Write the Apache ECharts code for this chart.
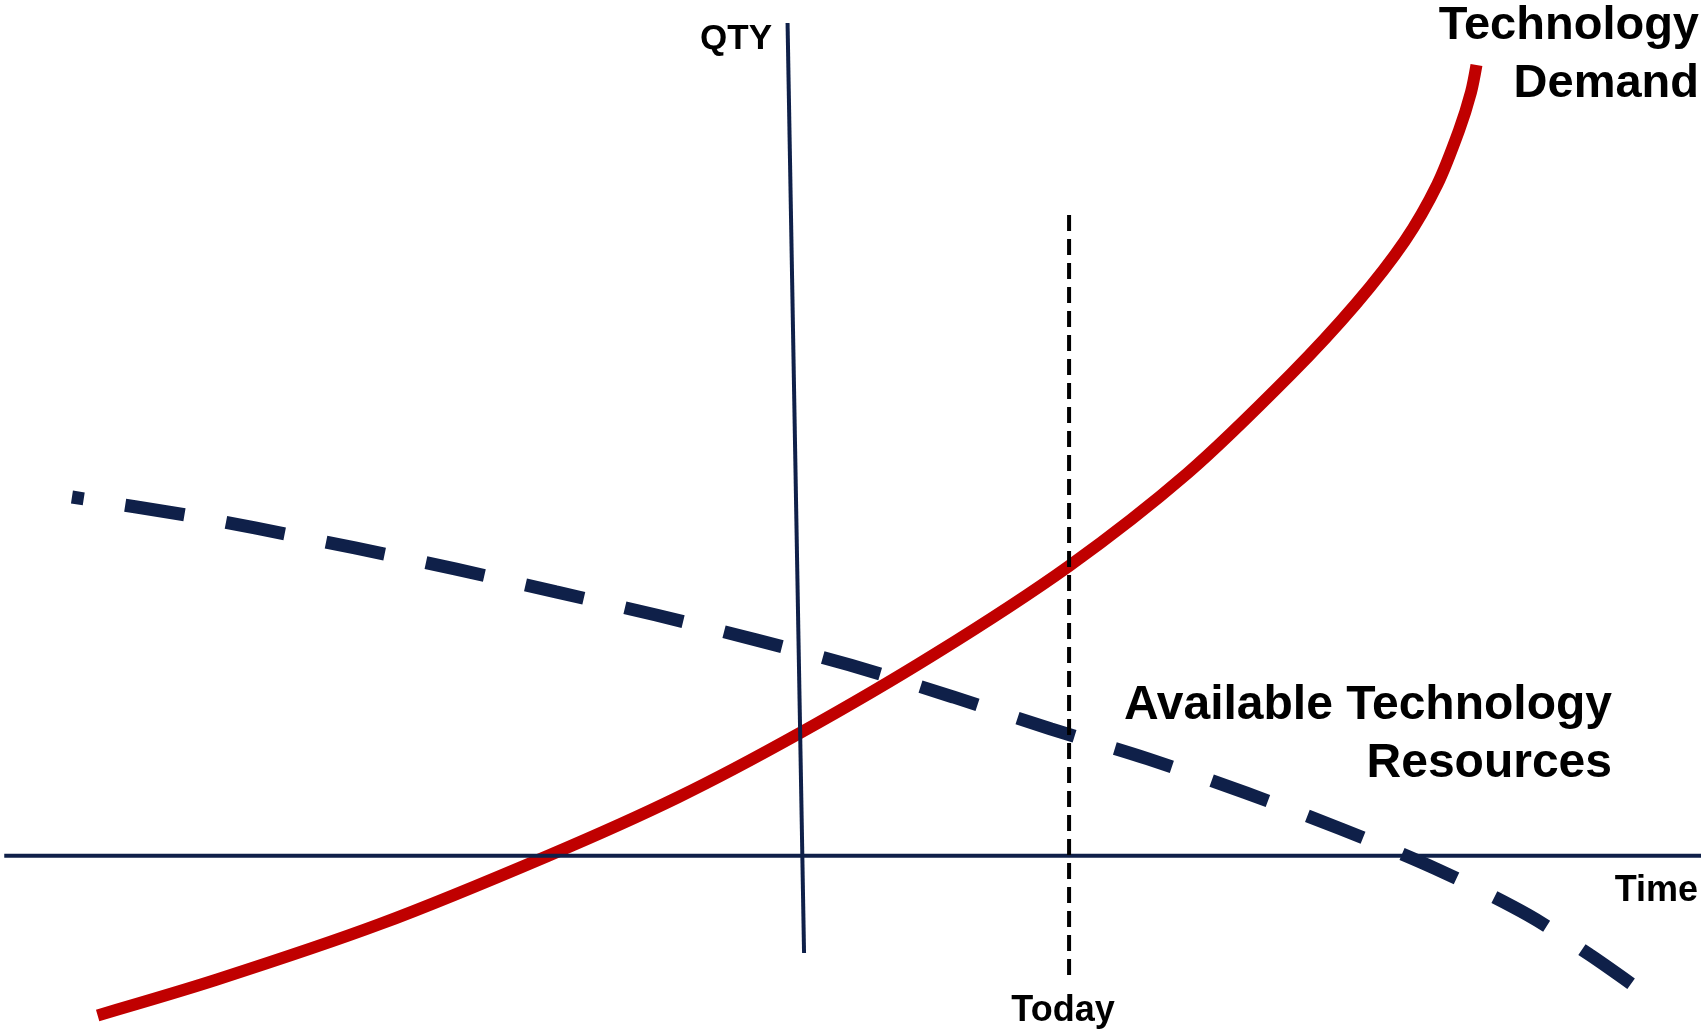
<!DOCTYPE html>
<html>
<head>
<meta charset="utf-8">
<title>Technology Demand vs Available Technology Resources</title>
<script src="https://cdn.jsdelivr.net/npm/echarts@6/dist/echarts.min.js"></script>
<style>
  html, body { margin: 0; padding: 0; background: #ffffff; }
  #chart { width: 1701px; height: 1035px; }
</style>
</head>
<body>
<div id="chart"></div>
<script>
// Time runs 0..100 across the page, QTY is 0 on the time axis.
const demandTime = [5.74, 12.76, 22.32, 32.21, 39.86, 47.00, 54.85, 62.82, 69.83, 75.89, 79.72, 82.59, 84.50, 85.78, 86.48, 86.80];
const demandQty  = [-16.03, -12.43, -6.87, 0.00, 5.89, 12.32, 20.17, 29.10, 38.48, 48.40, 55.48, 61.80, 67.47, 72.92, 76.74, 79.46];

const resourceTime = [4.23, 10.76, 14.99, 20.87, 26.75, 32.69, 38.57, 44.44, 49.97, 56.03, 61.79, 67.49, 73.25, 78.84, 84.42, 89.83, 93.47, 96.24];
const resourceQty  = [36.06, 34.30, 32.95, 30.94, 28.83, 26.52, 24.20, 21.70, 19.18, 15.97, 12.75, 9.74, 6.32, 2.70, -1.30, -5.94, -9.95, -13.27];

// Axis strokes (time axis, QTY axis) and the "Today" marker, in data units.
const timeAxisTime = [0.25, 100];
const timeAxisQty  = [0, 0];
const qtyAxisTime  = [46.30, 47.27];
const qtyAxisQty   = [83.69, -9.76];
const todayTime    = [62.85, 62.85];
const todayQty     = [64.4, -12.3];

const labelFont = '"Liberation Sans", Arial, Helvetica, sans-serif';

function zip(xs, ys) { return xs.map((x, i) => [x, ys[i]]); }

const chart = echarts.init(document.getElementById('chart'), null, { renderer: 'canvas' });

chart.setOption({
  backgroundColor: '#ffffff',
  animation: false,
  grid: { left: 0, right: 0, top: 0, bottom: 0 },
  xAxis: { type: 'value', min: 0, max: 100, show: false },
  yAxis: { type: 'value', min: -18, max: 86, show: false },
  series: [
    {
      name: 'Technology Demand',
      type: 'line',
      data: zip(demandTime, demandQty),
      smooth: 0.3,
      showSymbol: false,
      z: 1,
      lineStyle: { color: '#C00000', width: 12, cap: 'butt' }
    },
    {
      name: 'Time axis',
      type: 'line',
      data: zip(timeAxisTime, timeAxisQty),
      showSymbol: false,
      z: 2,
      lineStyle: { color: '#0F2049', width: 4 }
    },
    {
      name: 'QTY axis',
      type: 'line',
      data: zip(qtyAxisTime, qtyAxisQty),
      showSymbol: false,
      z: 2,
      lineStyle: { color: '#0F2049', width: 4 }
    },
    {
      name: 'Available Technology Resources',
      type: 'line',
      data: zip(resourceTime, resourceQty),
      smooth: 0.3,
      showSymbol: false,
      z: 3,
      lineStyle: { color: '#0F2049', width: 13, type: [60, 42], dashOffset: 48, cap: 'butt' }
    },
    {
      name: 'Today',
      type: 'line',
      data: zip(todayTime, todayQty),
      showSymbol: false,
      z: 4,
      lineStyle: { color: '#000000', width: 4, type: [16, 8] }
    }
  ],
  graphic: [
    { type: 'text', x: 772, y: 39, z: 10,
      style: { text: 'QTY', align: 'right', verticalAlign: 'middle', fill: '#000',
               fontSize: 35, fontWeight: 'bold', fontFamily: labelFont } },
    { type: 'text', x: 1063, y: 1011, z: 10,
      style: { text: 'Today', align: 'center', verticalAlign: 'middle', fill: '#000',
               fontSize: 36, fontWeight: 'bold', fontFamily: labelFont } },
    { type: 'text', x: 1698, y: 891, z: 10,
      style: { text: 'Time', align: 'right', verticalAlign: 'middle', fill: '#000',
               fontSize: 36, fontWeight: 'bold', fontFamily: labelFont } },
    { type: 'text', x: 1699, y: 26, z: 10,
      style: { text: 'Technology', align: 'right', verticalAlign: 'middle', fill: '#000',
               fontSize: 47, fontWeight: 'bold', fontFamily: labelFont } },
    { type: 'text', x: 1699, y: 84, z: 10,
      style: { text: 'Demand', align: 'right', verticalAlign: 'middle', fill: '#000',
               fontSize: 47, fontWeight: 'bold', fontFamily: labelFont } },
    { type: 'text', x: 1612, y: 706, z: 10,
      style: { text: 'Available Technology', align: 'right', verticalAlign: 'middle', fill: '#000',
               fontSize: 48, fontWeight: 'bold', fontFamily: labelFont } },
    { type: 'text', x: 1612, y: 764, z: 10,
      style: { text: 'Resources', align: 'right', verticalAlign: 'middle', fill: '#000',
               fontSize: 48, fontWeight: 'bold', fontFamily: labelFont } }
  ]
});
</script>
</body>
</html>
